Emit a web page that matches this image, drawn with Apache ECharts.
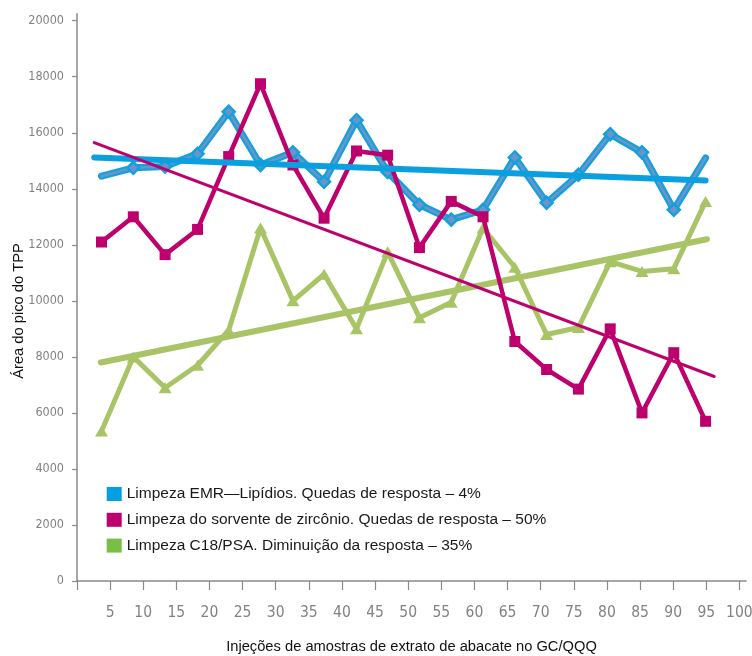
<!DOCTYPE html>
<html>
<head>
<meta charset="utf-8">
<script src="https://cdn.jsdelivr.net/npm/echarts@6/dist/echarts.min.js"></script>
<style>
html,body{margin:0;padding:0;background:#ffffff;}
#chart{width:752px;height:656px;}
</style>
</head>
<body>
<div id="chart"></div>
<script>
// ---- data ----
const injections = [3.7, 8.5, 13.3, 18.2, 22.9, 27.7, 32.6, 37.3, 42.2, 46.9, 51.7, 56.5, 61.3, 66.1, 70.9, 75.7, 80.5, 85.3, 90.1, 94.9];
const emrValues = [14450, 14750, 14800, 15250, 16750, 14850, 15300, 14250, 16450, 14600, 13430, 12900, 13250, 15120, 13500, 14500, 15950, 15300, 13250, 15100];
const zirconiaValues = [12100, 13000, 11650, 12550, 15150, 17750, 14850, 12950, 15350, 15200, 11900, 13550, 13000, 8550, 7550, 6850, 9000, 6000, 8150, 5700];
const c18Values = [5350, 8000, 6900, 7700, 8950, 12600, 10000, 10950, 9000, 11750, 9400, 9950, 12600, 11200, 8800, 9050, 11400, 11050, 11150, 13550];

const emrTrendX = [2.6, 94.9];
const emrTrendY = [15120, 14300];
const zirconiaTrendX = [2.6, 96.2];
const zirconiaTrendY = [15650, 7300];
const c18TrendX = [3.6, 95.1];
const c18TrendY = [7800, 12200];

const xTicks = [0, 5, 10, 15, 20, 25, 30, 35, 40, 45, 50, 55, 60, 65, 70, 75, 80, 85, 90, 95, 100];
const xLabels = [5, 10, 15, 20, 25, 30, 35, 40, 45, 50, 55, 60, 65, 70, 75, 80, 85, 90, 95, 100];
const yTicks = [0, 2000, 4000, 6000, 8000, 10000, 12000, 14000, 16000, 18000, 20000];

const emrName = 'Limpeza EMR\u2014Lipídios. Quedas de resposta \u2013 4%';
const zirconiaName = 'Limpeza do sorvente de zircônio. Quedas de resposta \u2013 50%';
const c18Name = 'Limpeza C18/PSA. Diminuição da resposta \u2013 35%';
const xTitle = 'Injeções de amostras de extrato de abacate no GC/QQQ';
const yTitle = 'Área do pico do TPP';

// ---- helpers ----
const zip = (xs, ys) => xs.map((x, i) => [x, ys[i]]);

const BLUE = '#14a0dc';
const BLUE_IN = '#6b95c8';
const PINK = '#bd006d';
const GREEN = '#a8c466';
const AXIS = '#8a8a8a';
const LABEL = '#808285';
const NUMFONT = '"Liberation Sans Narrow", "DejaVu Sans Condensed", sans-serif';
const TXTFONT = '"Liberation Sans", Arial, sans-serif';

const chart = echarts.init(document.getElementById('chart'), null, {renderer: 'canvas'});

chart.setOption({
  animation: false,
  backgroundColor: '#ffffff',
  grid: {left: 77, right: 6, top: 13.7, bottom: 75, containLabel: false, outerBoundsMode: 'none'},
  xAxis: {
    type: 'value', min: 0, max: 101,
    name: xTitle, nameLocation: 'middle', nameGap: 58,
    nameTextStyle: {fontFamily: TXTFONT, fontSize: 14.7, color: '#111111'},
    axisLine: {show: true, lineStyle: {color: AXIS, width: 1.5}},
    axisTick: {show: true, length: 9, customValues: xTicks, lineStyle: {color: AXIS, width: 1.2}},
    axisLabel: {customValues: xLabels, margin: 24, fontFamily: NUMFONT, fontSize: 15.5, color: LABEL,
                formatter: v => String(v)},
    splitLine: {show: false}
  },
  yAxis: {
    type: 'value', min: 0, max: 20250,
    axisLine: {show: true, lineStyle: {color: AXIS, width: 1.5}},
    axisTick: {show: true, length: 5, customValues: yTicks, lineStyle: {color: AXIS, width: 1.2}},
    axisLabel: {customValues: yTicks, margin: 13, fontFamily: NUMFONT, fontSize: 12.5, color: LABEL,
                formatter: v => String(v)},
    splitLine: {show: false}
  },
  legend: {
    orient: 'vertical', left: 101.7, top: 481,
    itemWidth: 15, itemHeight: 14, itemGap: 9.8, icon: 'rect',
    textStyle: {fontFamily: TXTFONT, fontSize: 15.5, color: '#1a1a1a'},
    data: [
      {name: emrName, icon: 'rect', itemStyle: {color: '#00a0e3', borderWidth: 0}},
      {name: zirconiaName, icon: 'rect', itemStyle: {color: '#be006e', borderWidth: 0}},
      {name: c18Name, icon: 'rect', itemStyle: {color: '#77c043', borderWidth: 0}}
    ],
    selectedMode: false
  },
  graphic: [{
    type: 'text', x: 19, y: 311, rotation: Math.PI / 2,
    style: {text: yTitle, font: '14.7px ' + TXTFONT, fill: '#111111',
            textAlign: 'center', textVerticalAlign: 'middle', align: 'center', verticalAlign: 'middle'}
  }],
  series: [
    {
      name: 'c18trend', type: 'line', z: 1, symbol: 'none', silent: true,
      data: zip(c18TrendX, c18TrendY),
      lineStyle: {color: GREEN, width: 6, cap: 'round'}
    },
    {
      name: c18Name, type: 'line', z: 2, silent: true,
      data: zip(injections, c18Values),
      symbol: 'triangle', symbolSize: [13, 11],
      itemStyle: {color: GREEN},
      lineStyle: {color: GREEN, width: 5, cap: 'round'}
    },
    {
      name: 'emrOuter', type: 'line', z: 3, symbol: 'none', silent: true,
      data: zip(injections, emrValues),
      lineStyle: {color: BLUE, width: 7, cap: 'round'}
    },
    {
      name: emrName, type: 'line', z: 4, silent: true,
      data: zip(injections, emrValues),
      symbol: (v, p) => (p.dataIndex === 0 || p.dataIndex === injections.length - 1) ? 'none' : 'diamond',
      symbolSize: 12,
      itemStyle: {color: BLUE_IN, borderColor: BLUE, borderWidth: 2.5},
      lineStyle: {color: BLUE_IN, width: 2.5, cap: 'round'}
    },
    {
      name: zirconiaName, type: 'line', z: 5, silent: true,
      data: zip(injections, zirconiaValues),
      symbol: 'rect', symbolSize: 11,
      itemStyle: {color: PINK},
      lineStyle: {color: PINK, width: 4.5, cap: 'round'}
    },
    {
      name: 'emrtrend', type: 'line', z: 6, symbol: 'none', silent: true,
      data: zip(emrTrendX, emrTrendY),
      lineStyle: {color: '#0aa0e0', width: 6, cap: 'round'}
    },
    {
      name: 'zirconiatrend', type: 'line', z: 7, symbol: 'none', silent: true,
      data: zip(zirconiaTrendX, zirconiaTrendY),
      lineStyle: {color: PINK, width: 3, cap: 'round'}
    }
  ]
});
</script>
</body>
</html>
